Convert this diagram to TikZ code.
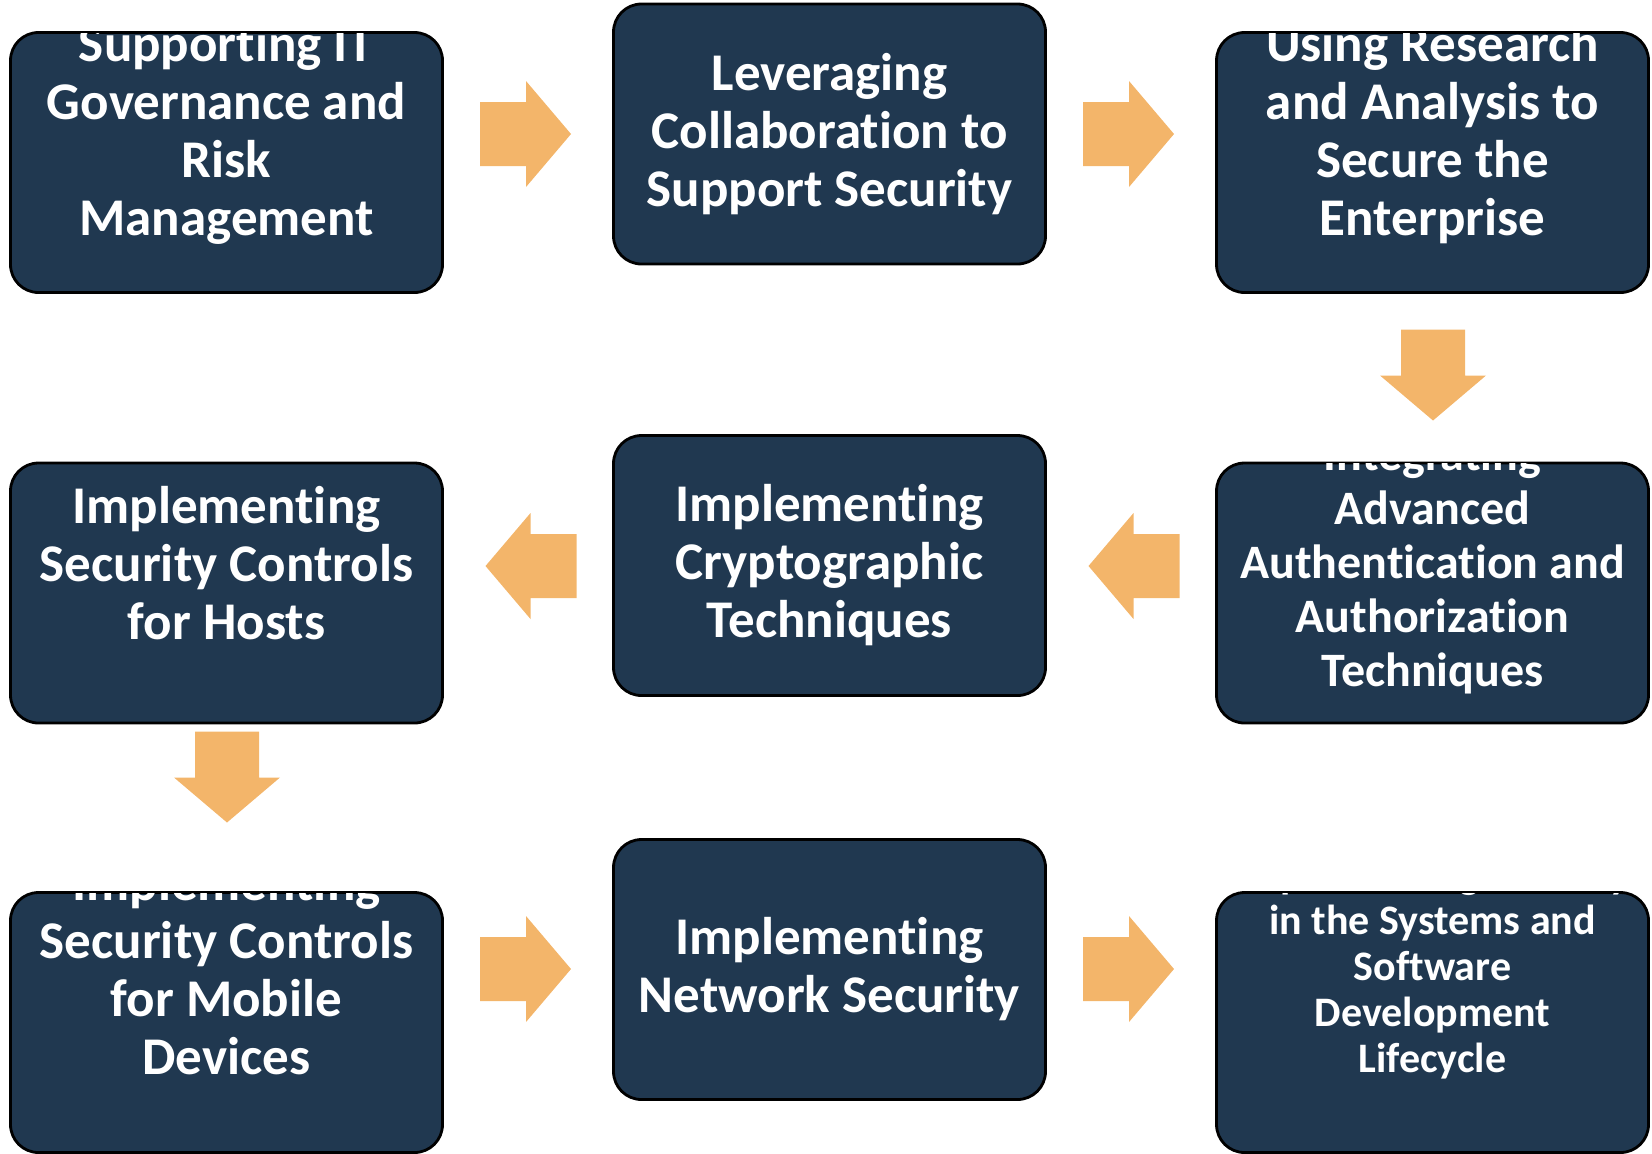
\documentclass[tikz,border=0pt]{standalone}
\usepackage{fontspec}
\setmainfont[Ligatures=NoCommon]{Carlito}

\definecolor{boxblue}{RGB}{32,56,80}
\definecolor{arroworange}{RGB}{243,181,106}

\tikzset{
  stepbox/.style={draw=black, line width=1.4pt, fill=boxblue, rounded corners=14pt,
    minimum width=216pt, minimum height=130pt, inner sep=0pt},
  steptext/.style={text=white, font=\bfseries\fontsize{26.5}{29}\selectfont,
    align=center, inner sep=0pt},
  flowarrow/.pic={\fill[arroworange] (-45.5,-32) -- (0.5,-32) -- (0.5,-53) -- (45.5,0)
    -- (0.5,53) -- (0.5,32) -- (-45.5,32) -- cycle;}
}

% text of a box, cut off at the box outline
\newcommand{\boxtext}[4]{%
  \begin{scope}
    \clip[rounded corners=14pt] ([shift={(0.7pt,-0.7pt)}]#1.north west)
      rectangle ([shift={(-0.7pt,0.7pt)}]#1.south east);
    \node[steptext,#3] (#1-text) at #2 {#4};
  \end{scope}}

\begin{document}
\begin{tikzpicture}[x=0.5pt,y=-0.5pt]
  \useasboundingbox (0,0) rectangle (1652,1153);

  % boxes
  \node[stepbox] (gov) at (226.5,162.5) {};
  \node[stepbox] (collab) at (829.5,134) {};
  \node[stepbox] (research) at (1432.5,162.5) {};
  \node[stepbox] (auth) at (1432.5,593) {};
  \node[stepbox] (crypto) at (829.5,565.5) {};
  \node[stepbox] (hosts) at (226.5,593) {};
  \node[stepbox] (mobile) at (226.5,1022.5) {};
  \node[stepbox] (network) at (829.5,969.5) {};
  \node[stepbox] (sdlc) at (1432.5,1022.5) {};

  \boxtext{gov}{(226.5,134)}{}{Supporting IT\\Governance and\\Risk\\Management}
  \boxtext{collab}{(829.5,134)}{}{Leveraging\\Collaboration to\\Support Security}
  \boxtext{research}{(1432.5,134)}{}{Using Research\\and Analysis to\\Secure the\\Enterprise}
  \boxtext{auth}{(1432.5,565)}{font=\bfseries\fontsize{24}{27}\selectfont}{Integrating\\Advanced\\Authentication and\\Authorization\\Techniques}
  \boxtext{crypto}{(829.5,565.5)}{}{Implementing\\Cryptographic\\Techniques}
  \boxtext{hosts}{(226.5,563)}{}{Implementing\\Security Controls\\for Hosts}
  \boxtext{mobile}{(226.5,969.5)}{}{Implementing\\Security Controls\\for Mobile\\Devices}
  \boxtext{network}{(829.5,969.5)}{}{Implementing\\Network Security}
  \boxtext{sdlc}{(1432.5,969.5)}{font=\bfseries\fontsize{21}{23}\selectfont}{Implementing Security\\in the Systems and\\Software\\Development\\Lifecycle}

  % arrows
  \pic (gov-collab) at (525.5,134) {flowarrow};
  \pic (collab-research) at (1128.5,134) {flowarrow};
  \pic[rotate=-90] (research-auth) at (1433,375) {flowarrow};
  \pic[rotate=180] (auth-crypto) at (1134,566) {flowarrow};
  \pic[rotate=180] (crypto-hosts) at (531,566) {flowarrow};
  \pic[rotate=-90] (hosts-mobile) at (227,777) {flowarrow};
  \pic (mobile-network) at (525.5,969) {flowarrow};
  \pic (network-sdlc) at (1128.5,969) {flowarrow};
\end{tikzpicture}
\end{document}
